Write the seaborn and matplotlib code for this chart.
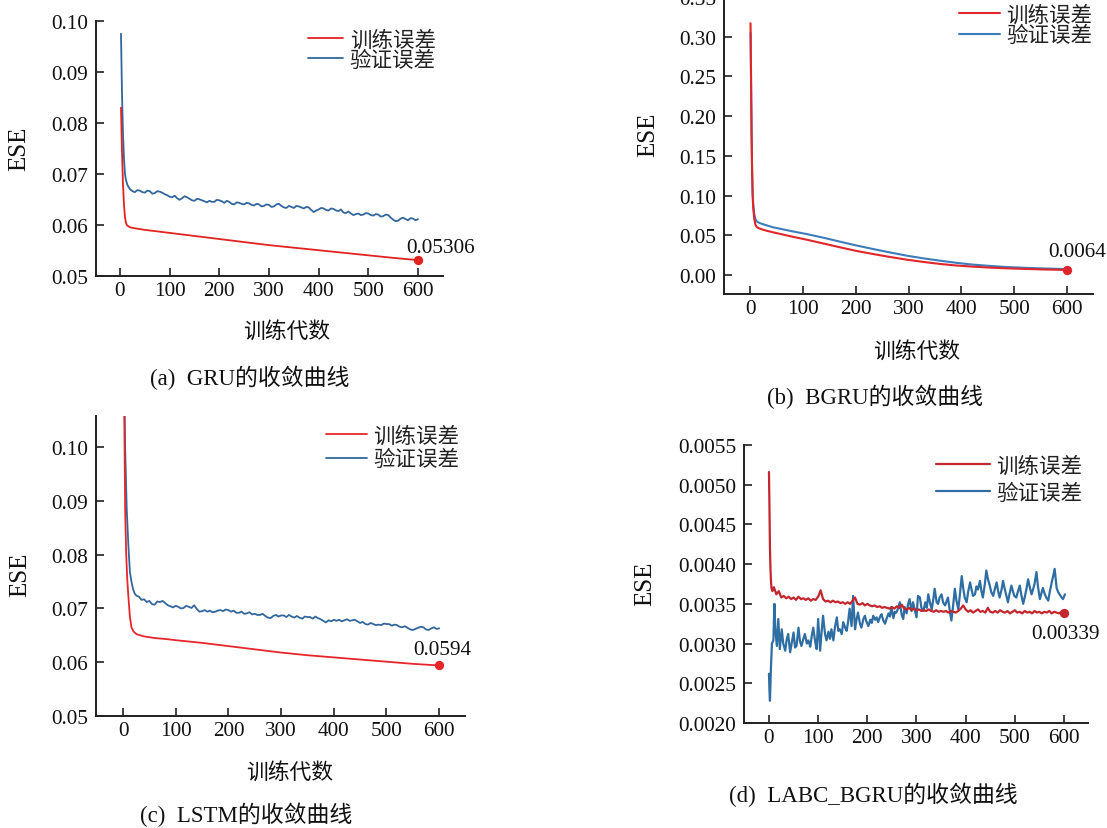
import matplotlib
matplotlib.use("Agg")
import matplotlib.pyplot as plt
from matplotlib.ticker import FormatStrFormatter
import seaborn as sns

# ---------------- data ----------------
# (a) GRU
gru_train_ep = [2, 4, 6, 8, 10, 12, 14, 17, 20, 30, 50, 75, 100, 150, 200, 250, 300,
                350, 400, 450, 500, 550, 600]
gru_train = [0.0830, 0.0745, 0.0680, 0.0640, 0.0615, 0.0604, 0.0599, 0.0597, 0.0595,
             0.0593, 0.0590, 0.0587, 0.0584, 0.0578, 0.0572, 0.0566, 0.0560,
             0.0555, 0.0550, 0.0545, 0.0540, 0.0535, 0.05306]
gru_val_head_ep = [2, 4, 6, 8, 10, 12, 15]
gru_val_head = [0.0975, 0.0860, 0.0780, 0.0730, 0.0700, 0.0688, 0.0678]
gru_val_tail = [  # epochs 20, 25, ..., 600
    0.0670, 0.0666, 0.0664, 0.0668, 0.0667, 0.0664, 0.0663, 0.0667, 0.0666, 0.0661,
    0.0662, 0.0666, 0.0665, 0.0663, 0.0660, 0.0658, 0.0655, 0.0654, 0.0657, 0.0652,
    0.0649, 0.0652, 0.0656, 0.0654, 0.0651, 0.0648, 0.0647, 0.0651, 0.0650, 0.0648,
    0.0646, 0.0644, 0.0647, 0.0645, 0.0645, 0.0649, 0.0648, 0.0646, 0.0643, 0.0647,
    0.0645, 0.0641, 0.0640, 0.0644, 0.0643, 0.0641, 0.0640, 0.0643, 0.0642, 0.0639,
    0.0638, 0.0641, 0.0640, 0.0636, 0.0637, 0.0640, 0.0639, 0.0635, 0.0636, 0.0640,
    0.0641, 0.0637, 0.0634, 0.0633, 0.0637, 0.0635, 0.0633, 0.0637, 0.0636, 0.0634,
    0.0632, 0.0635, 0.0634, 0.0629, 0.0625, 0.0628, 0.0630, 0.0633, 0.0632, 0.0629,
    0.0628, 0.0632, 0.0631, 0.0628, 0.0627, 0.0630, 0.0624, 0.0623, 0.0626, 0.0622,
    0.0619, 0.0621, 0.0622, 0.0619, 0.0620, 0.0623, 0.0622, 0.0619, 0.0618, 0.0621,
    0.0620, 0.0616, 0.0617, 0.0620, 0.0619, 0.0614, 0.0610, 0.0607, 0.0608, 0.0612,
    0.0614, 0.0611, 0.0609, 0.0613, 0.0612, 0.0609, 0.0611]

# (b) BGRU
bgru_ep = [1, 2, 3, 4, 5, 6, 8, 10, 12, 15, 20, 30, 44, 60, 80, 107, 140, 170, 200, 233,
           265, 297, 330, 360, 390, 423, 455, 486, 520, 549, 575, 600]
bgru_train = [0.317, 0.250, 0.180, 0.130, 0.100, 0.085, 0.071, 0.064, 0.061, 0.0595,
              0.0580, 0.0560, 0.0537, 0.0513, 0.0483, 0.0445, 0.0395, 0.0349, 0.0305,
              0.0264, 0.0227, 0.0193, 0.0163, 0.0139, 0.0120, 0.0105, 0.0093, 0.0084,
              0.0077, 0.0071, 0.0067, 0.0064]
bgru_val = [0.305, 0.240, 0.175, 0.130, 0.104, 0.090, 0.077, 0.071, 0.068, 0.0665,
            0.0650, 0.0628, 0.0600, 0.0578, 0.0550, 0.0516, 0.0468, 0.0420, 0.0374,
            0.0327, 0.0284, 0.0243, 0.0208, 0.0180, 0.0154, 0.0130, 0.0114, 0.0100,
            0.0091, 0.0084, 0.0079, 0.0075]

# (c) LSTM
lstm_train_ep = [1, 2, 4, 6, 8, 10, 13, 16, 20, 26, 40, 60, 83, 100, 150, 200, 250, 300,
                 350, 400, 450, 500, 550, 600]
lstm_train = [0.125, 0.110, 0.0885, 0.0800, 0.0755, 0.0724, 0.0685, 0.0665, 0.0657,
              0.0652, 0.0648, 0.0645, 0.0643, 0.0641, 0.0636, 0.0630, 0.0624, 0.0618,
              0.0613, 0.0609, 0.0605, 0.0601, 0.0597, 0.0594]
lstm_val_head_ep = [2, 4, 7, 10, 13, 16, 19, 22]
lstm_val_head = [0.115, 0.100, 0.0885, 0.0820, 0.0768, 0.0750, 0.0736, 0.0728]
lstm_val_tail = [  # epochs 25, 30, ..., 600
    0.0724, 0.0722, 0.0716, 0.0717, 0.0712, 0.0714, 0.0708, 0.0707, 0.0713, 0.0712,
    0.0714, 0.0710, 0.0706, 0.0704, 0.0702, 0.0705, 0.0703, 0.0700, 0.0701, 0.0705,
    0.0703, 0.0701, 0.0706, 0.0699, 0.0694, 0.0695, 0.0697, 0.0694, 0.0696, 0.0693,
    0.0694, 0.0696, 0.0697, 0.0695, 0.0698, 0.0697, 0.0694, 0.0696, 0.0692, 0.0692,
    0.0694, 0.0690, 0.0691, 0.0693, 0.0689, 0.0690, 0.0688, 0.0688, 0.0690, 0.0686,
    0.0683, 0.0682, 0.0686, 0.0688, 0.0685, 0.0687, 0.0687, 0.0684, 0.0688, 0.0685,
    0.0683, 0.0686, 0.0683, 0.0681, 0.0685, 0.0684, 0.0684, 0.0681, 0.0685, 0.0682,
    0.0680, 0.0677, 0.0674, 0.0678, 0.0676, 0.0679, 0.0677, 0.0679, 0.0676, 0.0678,
    0.0680, 0.0677, 0.0678, 0.0679, 0.0676, 0.0673, 0.0675, 0.0671, 0.0670, 0.0673,
    0.0671, 0.0669, 0.0670, 0.0669, 0.0672, 0.0671, 0.0671, 0.0668, 0.0670, 0.0669,
    0.0666, 0.0665, 0.0667, 0.0664, 0.0661, 0.0660, 0.0662, 0.0664, 0.0666, 0.0665,
    0.0661, 0.0660, 0.0663, 0.0665, 0.0662, 0.0663]

# (d) LABC_BGRU
labc_train_head_ep = [0, 1, 2, 3, 4, 5, 7]
labc_train_head = [0.00516, 0.00470, 0.00420, 0.00395, 0.00380, 0.00370, 0.00366]
labc_train_tail = [  # epochs 10, 15, ..., 600
    0.00371, 0.00362, 0.00366, 0.00358, 0.00360, 0.00357, 0.00359, 0.00356, 0.00358,
    0.00355, 0.00359, 0.00356, 0.00357, 0.00355, 0.00357, 0.00354, 0.00356, 0.00355,
    0.00359, 0.00367, 0.00356, 0.00353, 0.00354, 0.00352, 0.00354, 0.00352, 0.00353,
    0.00351, 0.00352, 0.00350, 0.00352, 0.00350, 0.00354, 0.00358, 0.00350, 0.00349,
    0.00351, 0.00348, 0.00350, 0.00348, 0.00347, 0.00348, 0.00346, 0.00347, 0.00345,
    0.00346, 0.00345, 0.00344, 0.00346, 0.00344, 0.00347, 0.00345, 0.00349, 0.00344,
    0.00343, 0.00345, 0.00342, 0.00344, 0.00342, 0.00343, 0.00341, 0.00342, 0.00341,
    0.00343, 0.00341, 0.00340, 0.00342, 0.00340, 0.00341, 0.00340, 0.00341, 0.00339,
    0.00341, 0.00340, 0.00339, 0.00341, 0.00344, 0.00348, 0.00343, 0.00340, 0.00342,
    0.00339, 0.00341, 0.00343, 0.00340, 0.00341, 0.00339, 0.00345, 0.00340, 0.00339,
    0.00341, 0.00339, 0.00342, 0.00340, 0.00339, 0.00341, 0.00338, 0.00340, 0.00342,
    0.00339, 0.00340, 0.00338, 0.00341, 0.00339, 0.00340, 0.00338, 0.00341, 0.00339,
    0.00340, 0.00338, 0.00340, 0.00339, 0.00341, 0.00338, 0.00340, 0.00339, 0.00338,
    0.00340, 0.00339]
labc_val_ep = [0, 1, 2, 4, 6, 9, 11, 13, 16, 19, 22, 26, 29, 33, 36, 39, 43, 46, 50, 53,
               56, 60, 63, 66, 70, 73, 77, 80, 84, 87, 90, 94, 97, 100, 104, 107, 110,
               114, 117, 121, 124, 127, 131, 134, 138, 141, 144, 148, 151, 155, 158, 161,
               164, 168, 171, 175, 178, 181, 185, 188, 192, 195, 198, 202, 206, 209, 212,
               216, 219, 222, 226, 229, 232, 236, 239, 243, 246, 249, 253, 256, 259, 263,
               266, 270, 273, 276, 280, 283, 286, 290, 293, 296, 300, 303, 307, 310, 314,
               318, 321, 324, 328, 331, 334, 337, 341, 344, 347, 351, 354, 358, 361, 364,
               368, 371, 374, 378, 381, 385, 388, 392, 395, 398, 402, 405, 409, 412, 415,
               419, 422, 425, 429, 432, 435, 439, 442, 445, 449, 452, 456, 459, 463, 466,
               469, 473, 476, 479, 483, 486, 489, 493, 496, 499, 503, 506, 510, 513, 517,
               520, 524, 527, 530, 534, 537, 540, 544, 547, 551, 554, 557, 561, 564, 568,
               571, 575, 578, 581, 585, 588, 591, 595, 598, 602]
labc_val = [0.00262, 0.00240, 0.00228, 0.00270, 0.00300, 0.00304, 0.00350, 0.00318,
            0.00297, 0.00331, 0.00293, 0.00318, 0.00300, 0.00291, 0.00305, 0.00312,
            0.00289, 0.00300, 0.00314, 0.00295, 0.00297, 0.00320, 0.00303, 0.00297,
            0.00306, 0.00312, 0.00300, 0.00304, 0.00296, 0.00310, 0.00320, 0.00302,
            0.00293, 0.00331, 0.00291, 0.00315, 0.00335, 0.00312, 0.00304, 0.00315,
            0.00306, 0.00318, 0.00304, 0.00320, 0.00333, 0.00316, 0.00318, 0.00312,
            0.00327, 0.00320, 0.00316, 0.00328, 0.00344, 0.00322, 0.00360, 0.00318,
            0.00330, 0.00339, 0.00325, 0.00320, 0.00331, 0.00335, 0.00328, 0.00322,
            0.00330, 0.00326, 0.00335, 0.00330, 0.00333, 0.00327, 0.00334, 0.00337,
            0.00330, 0.00325, 0.00331, 0.00338, 0.00334, 0.00346, 0.00332, 0.00340,
            0.00339, 0.00345, 0.00352, 0.00336, 0.00331, 0.00346, 0.00338, 0.00350,
            0.00356, 0.00341, 0.00352, 0.00344, 0.00333, 0.00360, 0.00358, 0.00345,
            0.00341, 0.00352, 0.00345, 0.00362, 0.00350, 0.00343, 0.00355, 0.00369,
            0.00352, 0.00350, 0.00358, 0.00362, 0.00352, 0.00348, 0.00353, 0.00358,
            0.00340, 0.00329, 0.00345, 0.00369, 0.00355, 0.00343, 0.00360, 0.00385,
            0.00370, 0.00358, 0.00352, 0.00365, 0.00377, 0.00368, 0.00360, 0.00362,
            0.00372, 0.00368, 0.00379, 0.00366, 0.00358, 0.00375, 0.00392, 0.00382,
            0.00373, 0.00365, 0.00360, 0.00368, 0.00377, 0.00366, 0.00358, 0.00368,
            0.00379, 0.00370, 0.00360, 0.00352, 0.00362, 0.00373, 0.00366, 0.00360,
            0.00358, 0.00365, 0.00373, 0.00362, 0.00350, 0.00358, 0.00370, 0.00381,
            0.00372, 0.00362, 0.00368, 0.00375, 0.00390, 0.00372, 0.00356, 0.00363,
            0.00370, 0.00362, 0.00358, 0.00354, 0.00365, 0.00377, 0.00385, 0.00394,
            0.00370, 0.00365, 0.00362, 0.00358, 0.00356, 0.00362]

x_ticks = [0, 100, 200, 300, 400, 500, 600]
legend_labels = ["训练误差", "验证误差"]

# assemble series
gru_val_ep = gru_val_head_ep + list(range(20, 20 + 5 * len(gru_val_tail), 5))
gru_val = gru_val_head + gru_val_tail
lstm_val_ep = lstm_val_head_ep + list(range(25, 25 + 5 * len(lstm_val_tail), 5))
lstm_val = lstm_val_head + lstm_val_tail
labc_train_ep = labc_train_head_ep + list(range(10, 10 + 5 * len(labc_train_tail), 5))
labc_train = labc_train_head + labc_train_tail

# ---------------- style ----------------
sns.set_theme(style="ticks")
plt.rcParams["font.family"] = ["Liberation Serif", "Noto Sans CJK SC"]
plt.rcParams["axes.unicode_minus"] = False

W, H = 1107, 829
fig = plt.figure(figsize=(W / 100, H / 100), dpi=100)
fig.patch.set_facecolor("white")

TICK_FS = 15.3
LEG_FS = 15.5


def px_axes(l, t, r, b):
    return fig.add_axes([l / W, 1 - b / H, (r - l) / W, (b - t) / H])


def ftext(x, y, s, **kw):
    fig.text(x / W, 1 - y / H, s, ha="center", va="center", **kw)


SPINE = "#231f20"


def panel(ax, tr_x, tr_y, va_x, va_y, c_tr, c_va, lw, xlim, ylim, yticks, yfmt,
          ann, ann_off, leg_anchor, leg_hl, leg_sp):
    sns.lineplot(x=va_x, y=va_y, ax=ax, color=c_va, lw=lw, label=legend_labels[1],
                 zorder=2)
    sns.lineplot(x=tr_x, y=tr_y, ax=ax, color=c_tr, lw=lw, label=legend_labels[0],
                 zorder=3)
    sns.scatterplot(x=[tr_x[-1]], y=[tr_y[-1]], ax=ax, color=c_tr, s=45,
                    edgecolor=c_tr, linewidth=0, zorder=5, legend=False)
    ax.annotate(ann, xy=(tr_x[-1], tr_y[-1]), xytext=ann_off,
                textcoords="offset points", ha="center", va="baseline",
                fontsize=TICK_FS, color="#111111")
    ax.set_xlim(*xlim)
    ax.set_ylim(*ylim)
    ax.set_xticks(x_ticks)
    ax.set_yticks(yticks)
    ax.yaxis.set_major_formatter(FormatStrFormatter(yfmt))
    ax.set_xlabel("")
    ax.set_ylabel("")
    for s in ["top", "right"]:
        ax.spines[s].set_visible(False)
    for s in ["left", "bottom"]:
        ax.spines[s].set_linewidth(1.4)
        ax.spines[s].set_color(SPINE)
    ax.tick_params(axis="both", direction="in", length=5.5, width=1.2,
                   color=SPINE, labelsize=TICK_FS, labelcolor="#111111")
    ax.tick_params(axis="x", pad=3.5)
    ax.tick_params(axis="y", pad=5.5)
    h, l = ax.get_legend_handles_labels()
    order = [l.index(legend_labels[0]), l.index(legend_labels[1])]
    ax.legend([h[i] for i in order], [l[i] for i in order], loc="upper left",
              bbox_to_anchor=leg_anchor, frameon=False, borderaxespad=0,
              borderpad=0, handlelength=leg_hl, handletextpad=0.3,
              labelspacing=leg_sp, fontsize=LEG_FS, labelcolor="#222222")
    ax.patch.set_alpha(0)


# (a)
ax_a = px_axes(96, 22, 443, 276.7)
panel(ax_a, gru_train_ep, gru_train, gru_val_ep, gru_val, "#e2231f", "#33669c", 1.3,
      (-48.3, 650.3), (0.05, 0.10), [0.05, 0.06, 0.07, 0.08, 0.09, 0.10], "%.2f",
      "0.05306", (16, 5.5), (0.610, 0.965), 1.65, 0.02)

# (b)
ax_b = px_axes(724, -2, 1093, 295)
panel(ax_b, bgru_ep, bgru_train, bgru_ep, bgru_val, "#e0262a", "#3d7dbb", 1.5,
      (-49.2, 649.0), (-0.0239, 0.350),
      [0.00, 0.05, 0.10, 0.15, 0.20, 0.25, 0.30, 0.35], "%.2f",
      "0.0064", (7, 10), (0.636, 0.972), 1.9, 0.02)

# (c)
ax_c = px_axes(96, 417, 465, 717)
panel(ax_c, lstm_train_ep, lstm_train, lstm_val_ep, lstm_val, "#e8262a", "#33669c",
      1.3, (-51.3, 649.0), (0.05, 0.1058),
      [0.05, 0.06, 0.07, 0.08, 0.09, 0.10], "%.2f",
      "0.0594", (2, 8), (0.623, 0.966), 1.9, 0.15)

# (d)
ax_d = px_axes(744, 446, 1088, 724)
panel(ax_d, labc_train_ep, labc_train, labc_val_ep, labc_val, "#c4262e", "#2f6ea3",
      1.6, (-50.8, 648.8), (0.0020, 0.0055),
      [0.0020, 0.0025, 0.0030, 0.0035, 0.0040, 0.0045, 0.0050, 0.0055], "%.4f",
      "0.00339", (1, -18), (0.558, 0.96), 2.5, 0.32)

# axis titles and captions
for (x, y) in [(19, 149), (648, 135), (20, 575), (645, 584)]:
    ftext(x, y, "ESE", rotation=90, fontsize=18, color="#111111")
for (x, y) in [(287, 332), (917, 352), (290, 773)]:
    ftext(x, y, "训练代数", fontsize=15.7, color="#111111")
ftext(250, 378, "(a)  GRU的收敛曲线", fontsize=16.5, color="#111111")
ftext(875, 397, "(b)  BGRU的收敛曲线", fontsize=16.5, color="#111111")
ftext(246, 815, "(c)  LSTM的收敛曲线", fontsize=16.5, color="#111111")
ftext(873, 795, "(d)  LABC_BGRU的收敛曲线", fontsize=16.5, color="#111111")

fig.savefig("out.png", dpi=100, facecolor="white")
